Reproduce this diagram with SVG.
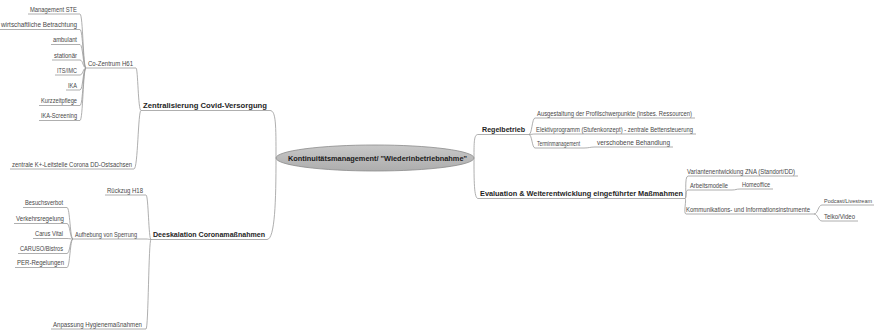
<svg xmlns="http://www.w3.org/2000/svg" width="875" height="331" viewBox="0 0 875 331">
<style>
text{font-family:"Liberation Sans",Arial,sans-serif}
.s{font-size:6.5px;fill:#474747}
.b{font-size:8px;fill:#1e1e1e;font-weight:bold}
.u{stroke:#9a9a9a;stroke-width:0.8;fill:none}
.c{stroke:#9a9a9a;stroke-width:0.8;fill:none}
</style>
<defs>
<linearGradient id="eg" x1="0" y1="0" x2="0" y2="1">
<stop offset="0" stop-color="#c8c8c8"/>
<stop offset="1" stop-color="#adadad"/>
</linearGradient>
</defs>
<rect width="875" height="331" fill="#fff"/>
<g id="connectors">
<path class="c" d="M276 158 C276 125 276 110.5 270 110.5"/>
<path class="c" d="M276 158 C276 200 275 239.5 267 239.5"/>
<path class="c" d="M474 158 C474 142 474 134.5 478 134.5"/>
<path class="c" d="M474 158 C474 180 474 198.5 478 198.5"/>
<path class="c" d="M141 110.5 C138 110.5 138 68 136 68"/>
<path class="c" d="M141 110.5 C138 110.5 138 169 134 169"/>
<path class="c" d="M86 68 C83 68 83 14 80 14"/>
<path class="c" d="M86 68 C83 68 83 29.5 80 29.5"/>
<path class="c" d="M86 68 C83 68 83 44.5 80 44.5"/>
<path class="c" d="M86 68 C83 68 83 60 80 60"/>
<path class="c" d="M86 68 C83 68 83 75 80 75"/>
<path class="c" d="M86 68 C83 68 83 90 80 90"/>
<path class="c" d="M86 68 C83 68 83 105.5 80 105.5"/>
<path class="c" d="M86 68 C83 68 83 120.5 80 120.5"/>
<path class="c" d="M151 239.5 C148.5 239.5 148.5 195 146 195"/>
<path class="c" d="M151 239.5 C148.5 239.5 148.5 239 146 239"/>
<path class="c" d="M151 239.5 C148.5 239.5 148.5 329 146 329"/>
<path class="c" d="M73 239 C70 239 70 207.5 67 207.5"/>
<path class="c" d="M73 239 C70 239 70 223.5 67 223.5"/>
<path class="c" d="M73 239 C70 239 70 238.5 67 238.5"/>
<path class="c" d="M73 239 C70 239 70 253.5 67 253.5"/>
<path class="c" d="M73 239 C70 239 70 267.5 67 267.5"/>
<path class="c" d="M529 134.5 C532 134.5 532 118 535 118"/>
<path class="c" d="M529 134.5 C532 134.5 532 134 535 134"/>
<path class="c" d="M529 134.5 C532 134.5 532 148 535 148"/>
<path class="c" d="M584 148 C589 148 590 147 595 147"/>
<path class="c" d="M685 198.5 C687 198.5 684 176 688 176"/>
<path class="c" d="M685 198.5 C687 198.5 685 190 688 190"/>
<path class="c" d="M685 198.5 C687 198.5 683 214 686 214"/>
<path class="c" d="M732 190 C736 190 736 189 740 189"/>
<path class="c" d="M814 214 C818 214 818 205 822 205"/>
<path class="c" d="M814 214 C818 214 818 221 822 221"/>
</g>
<g id="center">
<ellipse cx="375" cy="158" rx="99" ry="13" fill="url(#eg)" stroke="#8c8c8c" stroke-width="0.8"/>
<text x="288" y="160.5" font-size="7" font-weight="bold" fill="#1a1a1a" textLength="179" lengthAdjust="spacingAndGlyphs">Kontinuitätsmanagement/ "Wiederinbetriebnahme"</text>
</g>
<g id="zentralisierung">
<text class="b" x="143" y="108" textLength="124" lengthAdjust="spacingAndGlyphs">Zentralisierung Covid-Versorgung</text>
<line class="u" x1="141" y1="110.5" x2="270" y2="110.5"/>
</g>
<g id="cozentrum">
<text class="s" x="88" y="65.5" textLength="45" lengthAdjust="spacingAndGlyphs">Co-Zentrum H61</text>
<line class="u" x1="86" y1="68" x2="136" y2="68"/>
</g>
<g id="management"><text class="s" x="30" y="11.5" textLength="47" lengthAdjust="spacingAndGlyphs">Management STE</text><line class="u" x1="28" y1="14" x2="80" y2="14"/></g>
<g id="wirtschaft"><text class="s" x="1" y="27" textLength="76" lengthAdjust="spacingAndGlyphs">wirtschaftliche Betrachtung</text><line class="u" x1="0" y1="29.5" x2="80" y2="29.5"/></g>
<g id="ambulant"><text class="s" x="53" y="42" textLength="24" lengthAdjust="spacingAndGlyphs">ambulant</text><line class="u" x1="51" y1="44.5" x2="80" y2="44.5"/></g>
<g id="stationaer"><text class="s" x="54" y="57.5" textLength="23" lengthAdjust="spacingAndGlyphs">stationär</text><line class="u" x1="52" y1="60" x2="80" y2="60"/></g>
<g id="its"><text class="s" x="57" y="72.5" textLength="20" lengthAdjust="spacingAndGlyphs">ITS/IMC</text><line class="u" x1="55" y1="75" x2="80" y2="75"/></g>
<g id="ika"><text class="s" x="68" y="87.5" textLength="9" lengthAdjust="spacingAndGlyphs">IKA</text><line class="u" x1="66" y1="90" x2="80" y2="90"/></g>
<g id="kurzzeit"><text class="s" x="41" y="103" textLength="36" lengthAdjust="spacingAndGlyphs">Kurzzeitpflege</text><line class="u" x1="39" y1="105.5" x2="80" y2="105.5"/></g>
<g id="ikascreen"><text class="s" x="41" y="118" textLength="36" lengthAdjust="spacingAndGlyphs">IKA-Screening</text><line class="u" x1="39" y1="120.5" x2="80" y2="120.5"/></g>
<g id="leitstelle"><text class="s" x="12" y="166.5" textLength="120" lengthAdjust="spacingAndGlyphs">zentrale K+-Leitstelle Corona DD-Ostsachsen</text><line class="u" x1="10" y1="169" x2="134" y2="169"/></g>
<g id="deeskalation">
<text class="b" x="153" y="237" textLength="112" lengthAdjust="spacingAndGlyphs">Deeskalation Coronamaßnahmen</text>
<line class="u" x1="151" y1="239.5" x2="267" y2="239.5"/>
</g>
<g id="rueckzug"><text class="s" x="107" y="192.5" textLength="36" lengthAdjust="spacingAndGlyphs">Rückzug H18</text><line class="u" x1="105" y1="195" x2="146" y2="195"/></g>
<g id="aufhebung"><text class="s" x="75" y="236.5" textLength="62" lengthAdjust="spacingAndGlyphs">Aufhebung von Sperrung</text><line class="u" x1="73" y1="239" x2="146" y2="239"/></g>
<g id="anpassung"><text class="s" x="53" y="326.5" textLength="89" lengthAdjust="spacingAndGlyphs">Anpassung Hygienemaßnahmen</text><line class="u" x1="51" y1="329" x2="146" y2="329"/></g>
<g id="besuch"><text class="s" x="25" y="205" textLength="38" lengthAdjust="spacingAndGlyphs">Besuchsverbot</text><line class="u" x1="23" y1="207.5" x2="67" y2="207.5"/></g>
<g id="verkehr"><text class="s" x="16" y="221" textLength="48" lengthAdjust="spacingAndGlyphs">Verkehrsregelung</text><line class="u" x1="14" y1="223.5" x2="67" y2="223.5"/></g>
<g id="carus"><text class="s" x="35" y="236" textLength="28" lengthAdjust="spacingAndGlyphs">Carus Vital</text><line class="u" x1="33" y1="238.5" x2="67" y2="238.5"/></g>
<g id="caruso"><text class="s" x="20" y="251" textLength="43" lengthAdjust="spacingAndGlyphs">CARUSO/Bistros</text><line class="u" x1="18" y1="253.5" x2="67" y2="253.5"/></g>
<g id="per"><text class="s" x="17" y="265" textLength="47" lengthAdjust="spacingAndGlyphs">PER-Regelungen</text><line class="u" x1="15" y1="267.5" x2="67" y2="267.5"/></g>
<g id="regelbetrieb">
<text class="b" x="482" y="132" textLength="43" lengthAdjust="spacingAndGlyphs">Regelbetrieb</text>
<line class="u" x1="478" y1="134.5" x2="529" y2="134.5"/>
</g>
<g id="ausgestaltung"><text class="s" x="537" y="115.5" textLength="155" lengthAdjust="spacingAndGlyphs">Ausgestaltung der Profilschwerpunkte (insbes. Ressourcen)</text><line class="u" x1="535" y1="118" x2="695" y2="118"/></g>
<g id="elektiv"><text class="s" x="536" y="131.5" textLength="157" lengthAdjust="spacingAndGlyphs">Elektivprogramm (Stufenkonzept) - zentrale Bettensteuerung</text><line class="u" x1="535" y1="134" x2="696" y2="134"/></g>
<g id="termin"><text class="s" x="537" y="145.5" textLength="43" lengthAdjust="spacingAndGlyphs">Terminmanagement</text><line class="u" x1="535" y1="148" x2="584" y2="148"/></g>
<g id="verschoben"><text class="s" x="597" y="144.5" textLength="73" lengthAdjust="spacingAndGlyphs">verschobene Behandlung</text><line class="u" x1="595" y1="147" x2="673" y2="147"/></g>
<g id="evaluation">
<text class="b" x="480" y="196" textLength="203" lengthAdjust="spacingAndGlyphs">Evaluation &amp; Weiterentwicklung eingeführter Maßmahmen</text>
<line class="u" x1="478" y1="198.5" x2="685" y2="198.5"/>
</g>
<g id="varianten"><text class="s" x="687" y="173.5" textLength="108" lengthAdjust="spacingAndGlyphs">Variantenentwicklung ZNA (Standort/DD)</text><line class="u" x1="688" y1="176" x2="798" y2="176"/></g>
<g id="arbeitsmodelle"><text class="s" x="690" y="187.5" textLength="38" lengthAdjust="spacingAndGlyphs">Arbeitsmodelle</text><line class="u" x1="688" y1="190" x2="732" y2="190"/></g>
<g id="homeoffice"><text class="s" x="742" y="186.5" textLength="28" lengthAdjust="spacingAndGlyphs">Homeoffice</text><line class="u" x1="740" y1="189" x2="773" y2="189"/></g>
<g id="kommunikation"><text class="s" x="686" y="211.5" textLength="124" lengthAdjust="spacingAndGlyphs">Kommunikations- und Informationsinstrumente</text><line class="u" x1="686" y1="214" x2="814" y2="214"/></g>
<g id="podcast"><text class="s" x="824" y="202.5" font-size="5.8" style="font-size:5.8px" textLength="48" lengthAdjust="spacingAndGlyphs">Podcast/Livestream</text><line class="u" x1="822" y1="205" x2="874" y2="205"/></g>
<g id="telko"><text class="s" x="824" y="218.5" textLength="31" lengthAdjust="spacingAndGlyphs">Telko/Video</text><line class="u" x1="822" y1="221" x2="858" y2="221"/></g>
</svg>
